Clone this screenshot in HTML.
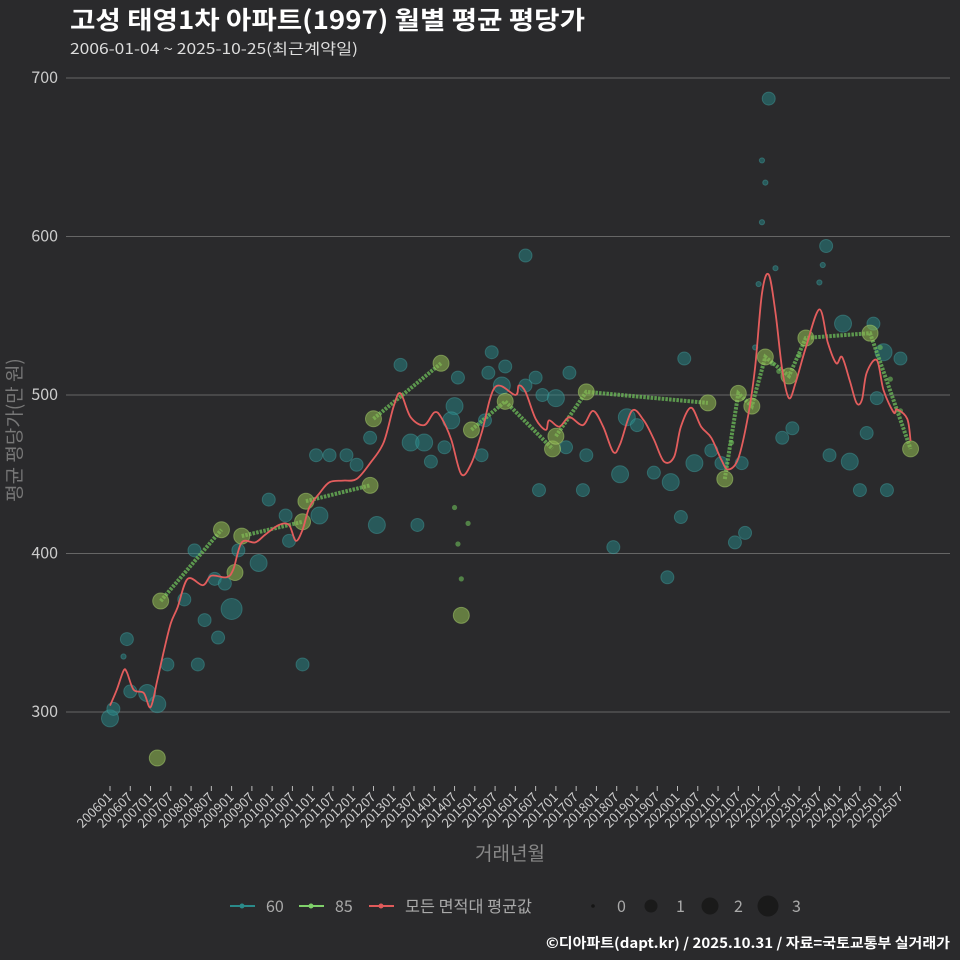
<!DOCTYPE html>
<html><head><meta charset="utf-8"><style>
html,body{margin:0;padding:0;background:#2a2a2c;}
svg{display:block;font-family:"Noto Sans CJK KR","Liberation Sans",sans-serif;}
</style></head><body>
<svg id="chart" width="960" height="960" viewBox="0 0 960 960">
<rect x="0" y="0" width="960" height="960" fill="#2a2a2c"/>
<text x="70" y="29" fill="#fff" font-size="25" font-weight="bold" textLength="515" lengthAdjust="spacingAndGlyphs">고성 태영1차 아파트(1997) 월별 평균 평당가</text>
<text x="70" y="54" fill="#ddd" font-size="15" textLength="288" lengthAdjust="spacingAndGlyphs">2006-01-04 ~ 2025-10-25(최근계약일)</text>
<g id="grid"></g>
<g id="teal"></g>
<g id="green"></g>
<g id="red"></g>
<g id="xaxis"></g>
<text x="15" y="430" fill="#777" font-size="19" transform="rotate(-90 15 430)" text-anchor="middle" dy="6">평균 평당가(만 원)</text>
<text x="510" y="860" fill="#888" font-size="19" text-anchor="middle">거래년월</text>
<g>
<line x1="230" y1="906" x2="255" y2="906" stroke="#2a8a8a" stroke-width="2"/><circle cx="242" cy="906" r="2.5" fill="#2a8a8a"/>
<text x="266" y="912" fill="#aaa" font-size="16">60</text>
<line x1="299" y1="906" x2="324" y2="906" stroke="#7fd06a" stroke-width="2"/><circle cx="311" cy="906" r="2.5" fill="#7fd06a"/>
<text x="335" y="912" fill="#aaa" font-size="16">85</text>
<line x1="369" y1="906" x2="394" y2="906" stroke="#e05a5a" stroke-width="2"/><circle cx="381" cy="906" r="2.5" fill="#e05a5a"/>
<text x="405" y="912" fill="#aaa" font-size="16" textLength="127" lengthAdjust="spacingAndGlyphs">모든 면적대 평균값</text>
<circle cx="593" cy="906" r="1.8" fill="#151515"/><text x="617" y="912" fill="#aaa" font-size="16">0</text>
<circle cx="651" cy="906" r="6.5" fill="#1a1a1a"/><text x="676" y="912" fill="#aaa" font-size="16">1</text>
<circle cx="710" cy="906" r="8.5" fill="#1a1a1a"/><text x="734" y="912" fill="#aaa" font-size="16">2</text>
<circle cx="768" cy="906" r="10.5" fill="#1a1a1a"/><text x="792" y="912" fill="#aaa" font-size="16">3</text>
</g>
<text x="950" y="948" fill="#fff" font-size="14" font-weight="bold" text-anchor="end" textLength="404" lengthAdjust="spacingAndGlyphs">©디아파트(dapt.kr) / 2025.10.31 / 자료=국토교통부 실거래가</text>
</svg>
<script>
// months since 2006-01
const yTicks = [300, 400, 500, 600, 700];
const xTickLabels = ["200601","200607","200701","200707","200801","200807","200901","200907","201001","201007","201101","201107","201201","201207","201301","201307","201401","201407","201501","201507","201601","201607","201701","201707","201801","201807","201901","201907","202001","202007","202101","202107","202201","202207","202301","202307","202401","202407","202501","202507"];
const tealMonths = [0,1,5,4,6,11,14,17,22,26,25,28,31,32,36,34,38,44,47,57,53,52,62,61,65,70,73,79,77,86,89,91,93,95,99,102,103,101,110,111,113,112,116,117,123,126,128,132,135,136,127,141,140,151,149,153,156,161,166,165,169,170,173,123,195,193,194,193,212,217,226,229,234,227,224,202,199,213,219,222,230,178,181,187,185,188,197,192,211,210,191];
const tealValues = [296,302,346,335,313,312,305,330,371,330,402,358,384,347,365,381,402,394,434,330,408,424,424,462,462,462,456,418,473,519,470,418,470,458,467,493,511,484,462,484,527,514,506,518,506,511,500,498,467,514,440,462,440,450,404,486,481,451,445,385,423,523,457,588,687,648,634,609,594,545,545,527,523,498,476,479,473,462,458,440,440,465,457,457,407,413,580,570,582,571,530];
const tealCounts = [2,1,1,0,1,2,2,1,1,1,1,1,1,1,3,1,1,2,1,1,1,1,2,1,1,1,1,2,1,1,2,1,2,1,1,2,1,2,1,1,1,1,2,1,1,1,1,2,1,1,1,1,1,2,1,2,1,1,2,1,1,1,2,1,1,0,0,0,1,2,1,2,1,1,1,1,1,1,2,1,1,1,1,1,1,1,0,0,0,0,0];
const greenMonths = [15,33,null,37,null,39,57,null,58,77,null,78,98,null,14,null,104,null,107,117,131,null,132,141,177,null,182,186,190,194,201,206,225,237];
const greenValues = [370,415,null,388,null,411,420,null,433,443,null,485,520,null,271,null,361,null,478,496,466,null,474,502,495,null,447,501,493,524,512,536,539,466];
const greenExtraMonths = [102,106,103,104,184,196,198,204,228,231,234];
const greenExtraValues = [429,419,406,384,470,520,515,525,530,510,490];
const redMonths = [0,2,4,5,7,10,12,14,16,18,20,23,27.5,30,34.5,36.5,39,43,46,50,53,55,57,59,62,65,69,73,77,81,84,86,89,93,96,98,101,104,107,110,114,120,121,123,126,129,130,133,136,140,143,146,149,151,154.5,158,161,164,167,169,172,175,178,181,183,186,189,191,193,195,197,199,201,203,206,210,212.5,215,216.7,219,221,222.6,224,227,229,232,233,236,237];
const redValues = [304,314,326,325,314,312,303,320,339,356,366,384,380,386,385,390,407,407,412,418,418,408,415,429,438,445,446,447,457,470,493,501,486,481,489,486,472,450,457,476,505,500,506,502,485,478,484,480,486,481,490,480,464,469,490,484,472,458,461,480,492,480,473,459,453,460,488,518,564,576,552,516,498,508,530,554,533,520,524,509,495,497,514,522,503,489,491,485,471];

const NS = "http://www.w3.org/2000/svg";
const X0 = 110, PXM = 3.378;
function xs(m){ return X0 + PXM*m; }
function ys(v){ return 712 - (v-300)*1.585; }
function rs(c){ return [2.6,6.5,8.5,10.5][c]; }
function mk(tag, attrs, parent){ const e=document.createElementNS(NS,tag); for(const k in attrs) e.setAttribute(k,attrs[k]); parent.appendChild(e); return e; }

const grid = document.getElementById('grid');
yTicks.forEach(function(t){
  const l = mk('line',{x1:66,x2:950,y1:ys(t),y2:ys(t),stroke:'#666','stroke-width':1},grid);
  
  
  const tx = mk('text',{x:58,y:ys(t)+5,fill:'#ccc','font-size':16,'text-anchor':'end'},grid);
  tx.textContent = t;
  
  
});
const xa = document.getElementById('xaxis');
xTickLabels.forEach(function(lab,i){
  const x = xs(i*6);
  const l = mk('line',{x1:x,x2:x,y1:786,y2:791,stroke:'#bbb','stroke-width':1},xa);
  
  
  const t = mk('text',{x:x+3,y:798,fill:'#ccc','font-size':13,'text-anchor':'end',transform:'rotate(-45 '+(x+3)+' 798)'},xa);
  t.textContent = lab;
  
  
});
const tg = document.getElementById('teal');
tealMonths.forEach(function(m,i){
  const c = mk('circle',{cx:xs(m),cy:ys(tealValues[i]),r:rs(tealCounts[i]),fill:'rgba(38,135,135,0.5)',stroke:'rgba(70,170,170,0.4)','stroke-width':1},tg);
  
  
});
const gg = document.getElementById('green');
let seg = [];
function flush(){
  if(seg.length>1){
    const p = mk('polyline',{points:seg.map(function(q){return q.join(',');}).join(' '),fill:'none',stroke:'rgba(110,190,90,0.75)','stroke-width':4,'stroke-dasharray':'2.5 1.2'},gg);
    
    
  }
  seg = [];
}
greenMonths.forEach(function(m,i){
  if(m===null){ flush(); return; }
  seg.push([xs(m),ys(greenValues[i])]);
});
flush();
greenExtraMonths.forEach(function(m,i){
  const c = mk('circle',{cx:xs(m),cy:ys(greenExtraValues[i]),r:2.6,fill:'rgba(110,190,90,0.6)'},gg);
  
  
});
greenMonths.forEach(function(m,i){
  if(m===null) return;
  const c = mk('circle',{cx:xs(m),cy:ys(greenValues[i]),r:8,fill:'rgba(140,180,80,0.6)',stroke:'rgba(170,210,110,0.5)','stroke-width':1},gg);
  
  
});
const pts = redMonths.map(function(m,i){ return [xs(m), ys(redValues[i])]; });
let d = 'M'+pts[0][0]+','+pts[0][1];
for(let i=0;i<pts.length-1;i++){
  const p0=pts[Math.max(0,i-1)], p1=pts[i], p2=pts[i+1], p3=pts[Math.min(pts.length-1,i+2)];
  const c1=[p1[0]+(p2[0]-p0[0])/6, p1[1]+(p2[1]-p0[1])/6];
  const c2=[p2[0]-(p3[0]-p1[0])/6, p2[1]-(p3[1]-p1[1])/6];
  d += ' C'+c1[0]+','+c1[1]+' '+c2[0]+','+c2[1]+' '+p2[0]+','+p2[1];
}
const rp = mk('path',{d:d,fill:'none',stroke:'#e35d5d','stroke-width':1.8},document.getElementById('red'));


</script>
</body></html>
